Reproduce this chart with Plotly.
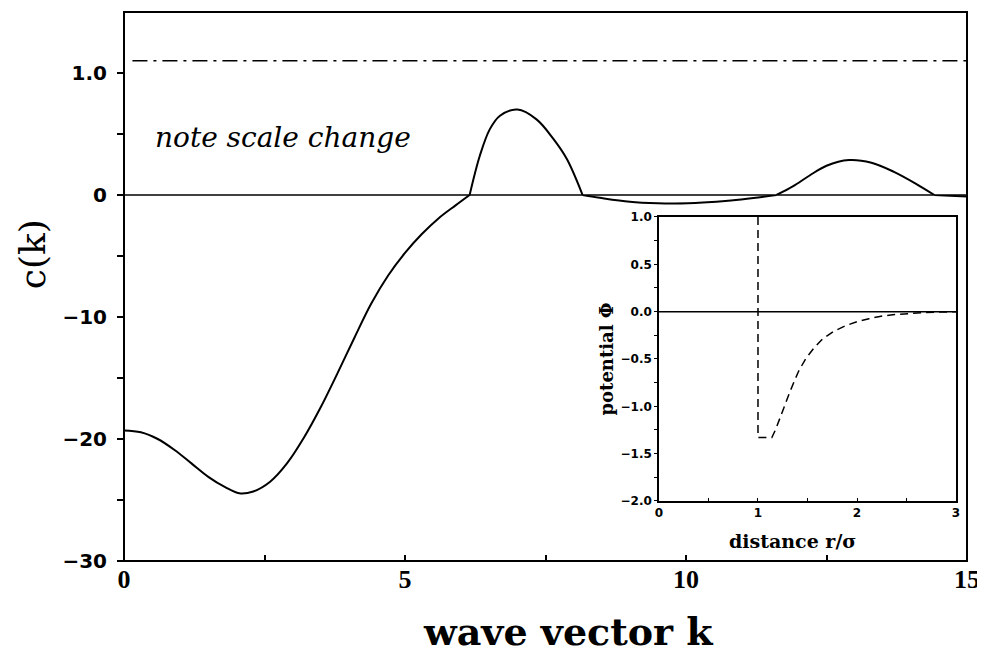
import numpy as np
import plotly.graph_objects as go

# ---- main curve c(k) ----
k_vals = [0, 0.3, 0.6, 0.9, 1.2, 1.5, 1.8, 2.05, 2.3, 2.6, 2.9, 3.2, 3.5, 3.8, 4.1,
          4.4, 4.7, 5.0, 5.3, 5.6, 5.9, 6.15,
          6.33, 6.51, 6.69, 7.0, 7.34, 7.64, 7.88, 8.16,
          8.5, 9.0, 9.5, 9.8, 10.3, 10.8, 11.2, 11.61,
          11.9, 12.2, 12.5, 12.9, 13.3, 13.7, 14.1, 14.42, 14.7, 15]
c_vals = [-19.3, -19.45, -20.0, -20.9, -22.0, -23.1, -23.95, -24.45, -24.3, -23.5, -22.0,
          -19.9, -17.4, -14.6, -11.7, -8.9, -6.6, -4.75, -3.2, -1.9, -0.85, 0,
          0.32, 0.54, 0.65, 0.70, 0.62, 0.46, 0.295, 0,
          -0.25, -0.55, -0.68, -0.7, -0.62, -0.45, -0.25, 0,
          0.07, 0.16, 0.24, 0.287, 0.265, 0.19, 0.09, 0, -0.07, -0.13]

# dash-dot reference level (upper scale)
ref_k = [0.15, 15]
ref_c = [1.1, 1.1]

# ---- inset potential ----
r_vals = [1.0, 1.0, 1.14, 1.18, 1.22, 1.26, 1.31, 1.36, 1.41, 1.48, 1.56, 1.65, 1.76,
          1.88, 2.0, 2.12, 2.23, 2.36, 2.5, 2.65, 2.8, 3.0]
phi_vals = [1.0, -1.33, -1.33, -1.24, -1.13, -1.01, -0.88, -0.75, -0.63, -0.5, -0.39,
            -0.29, -0.21, -0.15, -0.105, -0.075, -0.05, -0.033, -0.02, -0.011, -0.005, 0]

# tick labels
main_x_ticks = [0, 5, 10, 15]
main_y_low_ticks = [-30, -20, -10, 0]
main_y_low_text = ["\u221230", "\u221220", "\u221210", "0"]
main_y_up_ticks = [1.0]
main_y_up_text = ["1.0"]
inset_x_ticks = [0, 1, 2, 3]
inset_y_ticks = [-2.0, -1.5, -1.0, -0.5, 0.0, 0.5, 1.0]
inset_y_text = ["\u22122.0", "\u22121.5", "\u22121.0", "\u22120.5", "0.0", "0.5", "1.0"]

# split curve into the lower (linear) and upper (expanded) scale parts
neg = [c if c <= 0 else None for c in c_vals]
pos = [c if c >= 0 else None for c in c_vals]

fig = go.Figure()
fig.add_trace(go.Scatter(x=k_vals, y=neg, mode="lines", xaxis="x", yaxis="y",
                         connectgaps=False,
                         line=dict(color="black", width=2, shape="spline", smoothing=1.0),
                         showlegend=False))
fig.add_trace(go.Scatter(x=k_vals, y=pos, mode="lines", xaxis="x", yaxis="y2",
                         connectgaps=False,
                         line=dict(color="black", width=2, shape="spline", smoothing=1.0),
                         showlegend=False))
fig.add_trace(go.Scatter(x=ref_k, y=ref_c, mode="lines", xaxis="x", yaxis="y2",
                         line=dict(color="black", width=1.5, dash="15px,6px,3px,6px"),
                         showlegend=False))
# inset
fig.add_trace(go.Scatter(x=[0, 3], y=[0, 0], mode="lines", xaxis="x2", yaxis="y3",
                         line=dict(color="black", width=1.5), showlegend=False))
fig.add_trace(go.Scatter(x=r_vals, y=phi_vals, mode="lines", xaxis="x2", yaxis="y3",
                         line=dict(color="black", width=1.5, dash="8px,5px"),
                         showlegend=False))

split = 2 / 3
tickfont_y = dict(family="DejaVu Sans", size=20, color="black")
tickfont_x = dict(family="Liberation Serif", size=26, color="black")
inset_font = dict(family="DejaVu Sans", size=12, color="black")

# page body adds an 8px offset, so the figure is 8px smaller and margins compensate
fig.update_layout(
    width=977, height=648,
    margin=dict(l=116, r=18, t=4, b=95, autoexpand=False),
    paper_bgcolor="white", plot_bgcolor="white",
    xaxis=dict(domain=[0, 1], range=[0, 15], anchor="y", showgrid=False, zeroline=False,
               automargin=False,
               tickvals=main_x_ticks, ticktext=[f"<b>{v}</b>" for v in main_x_ticks],
               ticks="inside", ticklen=6, tickwidth=1.5, tickcolor="black",
               minor=dict(tickvals=[2.5, 7.5, 12.5], ticks="inside", ticklen=6,
                          tickwidth=1.5, tickcolor="black"),
               tickfont=tickfont_x, showline=False),
    yaxis=dict(domain=[0, split], range=[-30, 0], anchor="x", showgrid=False,
               zeroline=False, automargin=False, tickvals=main_y_low_ticks,
               ticktext=[f"<b>{t}</b>" for t in main_y_low_text],
               ticks="outside", ticklen=6, tickwidth=1.5, tickcolor="black",
               ticklabelstandoff=6,
               minor=dict(tickvals=[-25, -15, -5], ticks="outside", ticklen=6,
                          tickwidth=1.5, tickcolor="black"),
               tickfont=tickfont_y, showline=False),
    yaxis2=dict(domain=[split, 1], range=[0, 1.5], anchor="x", showgrid=False,
                zeroline=False, automargin=False, tickvals=main_y_up_ticks,
                ticktext=[f"<b>{t}</b>" for t in main_y_up_text],
                ticks="outside", ticklen=6, tickwidth=1.5, tickcolor="black",
                ticklabelstandoff=6,
                minor=dict(tickvals=[0.5], ticks="outside", ticklen=6,
                           tickwidth=1.5, tickcolor="black"),
                tickfont=tickfont_y, showline=False),
    xaxis2=dict(domain=[0.6346, 0.987], range=[0, 3], anchor="y3", showgrid=False,
                zeroline=False, automargin=False, tickvals=inset_x_ticks,
                ticktext=[f"<b>{v}</b>" for v in inset_x_ticks],
                ticks="inside", ticklen=3, tickwidth=1, tickcolor="black",
                minor=dict(tickvals=[0.5, 1.5, 2.5], ticks="inside", ticklen=3,
                           tickwidth=1, tickcolor="black"),
                tickfont=inset_font, showline=True, linecolor="black", linewidth=1.5,
                mirror=True),
    yaxis3=dict(domain=[0.1093, 0.6266], range=[-2, 1], anchor="x2", showgrid=False,
                zeroline=False, automargin=False, tickvals=inset_y_ticks,
                ticktext=[f"<b>{t}</b>" for t in inset_y_text],
                ticks="outside", ticklen=3, tickwidth=1, tickcolor="black",
                minor=dict(tickvals=[-1.75, -1.25, -0.75, -0.25, 0.25, 0.75],
                           ticks="outside", ticklen=3, tickwidth=1, tickcolor="black"),
                tickfont=inset_font, showline=True, linecolor="black", linewidth=1.5,
                mirror=True,
                title=dict(text="<b>potential \u03a6</b>", standoff=2,
                           font=dict(family="DejaVu Serif", size=18, color="black"))),
    shapes=[
        dict(type="rect", xref="paper", yref="paper", x0=0, x1=1, y0=0, y1=1,
             line=dict(color="black", width=2), layer="above"),
        dict(type="line", xref="x", yref="y domain", x0=0, x1=15, y0=1, y1=1,
             line=dict(color="black", width=1.5)),
    ],
    annotations=[
        dict(text="<i>note scale change</i>", xref="x", yref="y2", x=0.52, y=0.475,
             xanchor="left", yanchor="middle", showarrow=False,
             font=dict(family="DejaVu Serif", size=28, color="black")),
        dict(text="<b>wave vector k</b>", xref="paper", yref="paper", x=0.527, y=-0.128,
             xanchor="center", yanchor="middle", showarrow=False,
             font=dict(family="DejaVu Serif", size=38, color="black")),
        dict(text="c(k)", xref="paper", yref="paper", x=-0.109, y=0.559,
             xanchor="center", yanchor="middle", showarrow=False, textangle=-90,
             font=dict(family="DejaVu Serif", size=36, color="black")),
        dict(text="<b>distance r/\u03c3</b>", xref="x2 domain", yref="y3 domain",
             x=0.451, y=-0.141, xanchor="center", yanchor="middle", showarrow=False,
             font=dict(family="DejaVu Serif", size=19, color="black")),
    ],
)

fig.write_html("out.html")
